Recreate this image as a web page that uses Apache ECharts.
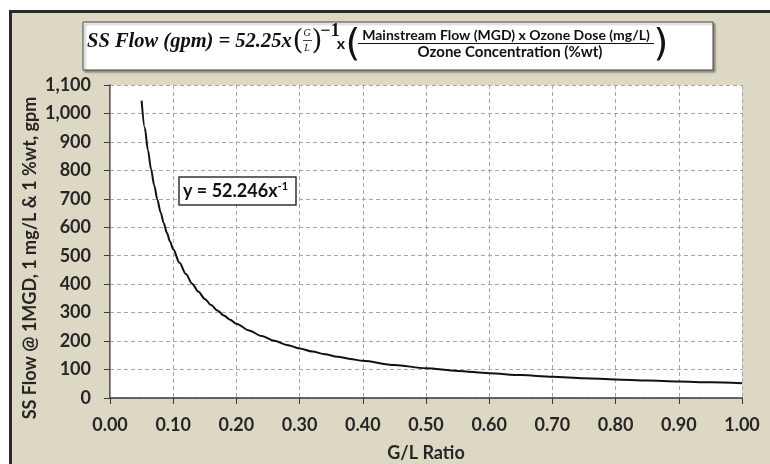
<!DOCTYPE html>
<html>
<head>
<meta charset="utf-8">
<script src="https://cdn.jsdelivr.net/npm/echarts@6/dist/echarts.min.js"></script>
<style>
html,body{margin:0;padding:0;background:#fff;width:770px;height:464px;overflow:hidden;}
#frame{position:absolute;left:9px;top:10px;width:770px;height:470px;background:#DDD8C4;border-left:3px solid #2a2a2a;border-top:3px solid #2a2a2a;}
#chart{position:absolute;left:0;top:0;width:770px;height:464px;}
</style>
</head>
<body>
<div id="frame"></div>
<div id="chart"></div>
<script>
// G/L ratio values (x) and SS flow values (y, gpm)
const glRatio = [0.05, 0.055, 0.06, 0.065, 0.07, 0.075, 0.08, 0.085, 0.09, 0.095, 0.10, 0.11, 0.12, 0.13, 0.14, 0.15, 0.16, 0.17, 0.18, 0.19, 0.20, 0.22, 0.24, 0.26, 0.28, 0.30, 0.32, 0.34, 0.36, 0.38, 0.40, 0.45, 0.50, 0.55, 0.60, 0.65, 0.70, 0.75, 0.80, 0.85, 0.90, 0.95, 1.00];
const ssFlow = [1044.9, 949.9, 870.8, 803.8, 746.4, 696.6, 653.1, 614.7, 580.5, 550.0, 522.5, 475.0, 435.4, 401.9, 373.2, 348.3, 326.5, 307.3, 290.3, 275.0, 261.2, 237.5, 217.7, 200.9, 186.6, 174.2, 163.3, 153.7, 145.1, 137.5, 130.6, 116.1, 104.5, 95.0, 87.1, 80.4, 74.6, 69.7, 65.3, 61.5, 58.1, 55.0, 52.2];
const xTitle = 'G/L Ratio';
const yTitle = 'SS Flow @ 1MGD, 1 mg/L & 1 %wt, gpm';
const trendLabel = 'y = 52.246x';
const trendExp = '-1';
const formulaLeft = 'SS Flow (gpm) = 52.25x';
const formulaNum = 'Mainstream Flow (MGD) x Ozone Dose (mg/L)';
const formulaDen = 'Ozone Concentration (%wt)';

const FONT = 'Lato, "Open Sans", sans-serif';
const TXT = '#262626';
const chart = echarts.init(document.getElementById('chart'), null, {renderer:'canvas'});
const pts = glRatio.map((x,i)=>[x, ssFlow[i]]);
const fmtThousands = v => String(v).replace(/\B(?=(\d{3})+(?!\d))/g, ',');

chart.setOption({
  backgroundColor: 'transparent',
  animation: false,
  grid: {left:110, right:28, top:85, bottom:66, show:true, backgroundColor:'#fff', borderWidth:0},
  xAxis: {
    type:'value', min:0, max:1, interval:0.1,
    axisLine:{show:true, onZero:false, lineStyle:{color:'#3a3a3a', width:1.5}},
    axisTick:{show:true, length:6, lineStyle:{color:'#3a3a3a'}},
    axisLabel:{formatter:v=>v.toFixed(2), color:TXT, fontFamily:FONT, fontWeight:'bold', fontSize:18, margin:18},
    splitLine:{show:true, lineStyle:{color:'#a6a6a6', type:[4,3], width:1}}
  },
  yAxis: [{
    type:'value', min:0, max:1100, interval:100,
    axisLine:{show:true, onZero:false, lineStyle:{color:'#3a3a3a', width:1.5}},
    axisTick:{show:true, length:6, lineStyle:{color:'#3a3a3a'}},
    axisLabel:{formatter:fmtThousands, color:TXT, fontFamily:FONT, fontWeight:'bold', fontSize:18, margin:19},
    splitLine:{show:true, lineStyle:{color:'#a6a6a6', type:[4,3], width:1}}
  },{
    type:'value', min:0, max:1100, interval:100, position:'right',
    axisLine:{show:true, lineStyle:{color:'#8c8c8c', width:1}},
    axisTick:{show:false}, axisLabel:{show:false}, splitLine:{show:false}
  }],
  series: [{
    type:'line', data:pts, showSymbol:false, smooth:0.3, smoothMonotone:'x',
    lineStyle:{color:'#111', width:2}, z:5
  }],
  graphic: [
    {type:'text', x:30, y:258, rotation:Math.PI/2,
     style:{text:yTitle, x:0, y:0, align:'center', verticalAlign:'middle', fill:TXT, font:'bold 18px '+FONT}},
    {type:'text', x:426, y:453,
     style:{text:xTitle, x:0, y:0, align:'center', verticalAlign:'middle', fill:TXT, font:'bold 18px '+FONT}},
    {type:'rect', shape:{x:179, y:177, width:117, height:28},
     style:{fill:'#fff', stroke:'#333', lineWidth:1.5}, z:10},
    {type:'text', z:11, x:183, y:191,
     style:{text:'{a|'+trendLabel+'}{b|'+trendExp+'}', x:0, y:0, align:'left', verticalAlign:'middle',
       rich:{a:{font:'bold 18px '+FONT, fill:'#111', lineHeight:20},
             b:{font:'bold 11px '+FONT, fill:'#111', verticalAlign:'top', lineHeight:20}}}},
    {type:'rect', shape:{x:83, y:22, width:630, height:48},
     style:{fill:'#fff', stroke:'#444', lineWidth:1, shadowColor:'rgba(0,0,0,0.35)', shadowOffsetX:2, shadowOffsetY:2, shadowBlur:2}, z:10},
    {type:'text', z:11, x:87, y:42,
     style:{text:formulaLeft, x:0, y:0, align:'left', verticalAlign:'middle', fill:'#111', font:'italic bold 20.5px "Liberation Serif", serif'}},
    {type:'text', z:11, x:298, y:42,
     style:{text:'(', x:0, y:0, align:'center', verticalAlign:'middle', fill:'#111', font:'28px "DejaVu Serif", serif'}},
    {type:'text', z:11, x:307, y:33,
     style:{text:'G', x:0, y:0, align:'center', verticalAlign:'middle', fill:'#111', font:'italic 10px "Liberation Serif", serif'}},
    {type:'line', z:11, shape:{x1:303, y1:40.5, x2:312, y2:40.5}, style:{stroke:'#111', lineWidth:0.8}},
    {type:'text', z:11, x:307, y:48,
     style:{text:'L', x:0, y:0, align:'center', verticalAlign:'middle', fill:'#111', font:'italic 10px "Liberation Serif", serif'}},
    {type:'text', z:11, x:317, y:42,
     style:{text:')', x:0, y:0, align:'center', verticalAlign:'middle', fill:'#111', font:'28px "DejaVu Serif", serif'}},
    {type:'text', z:11, x:330, y:31,
     style:{text:'\u22121', x:0, y:0, align:'center', verticalAlign:'middle', fill:'#111', font:'bold 18px "Liberation Serif", serif'}},
    {type:'text', z:11, x:341, y:44,
     style:{text:'x', x:0, y:0, align:'center', verticalAlign:'middle', fill:'#111', font:'bold 16px '+FONT}},
    {type:'text', z:11, x:353, y:45,
     style:{text:'(', x:0, y:0, align:'center', verticalAlign:'middle', fill:'#111', font:'38px "DejaVu Sans", sans-serif'}},
    {type:'text', z:11, x:506, y:35,
     style:{text:formulaNum, x:0, y:0, align:'center', verticalAlign:'middle', fill:'#111', font:'bold 14px '+FONT}},
    {type:'line', z:11, shape:{x1:358, y1:43.5, x2:654, y2:43.5}, style:{stroke:'#111', lineWidth:1.2}},
    {type:'text', z:11, x:510, y:52,
     style:{text:formulaDen, x:0, y:0, align:'center', verticalAlign:'middle', fill:'#111', font:'bold 15px '+FONT}},
    {type:'text', z:11, x:661, y:45,
     style:{text:')', x:0, y:0, align:'center', verticalAlign:'middle', fill:'#111', font:'38px "DejaVu Sans", sans-serif'}}
  ]
});
</script>
</body>
</html>
